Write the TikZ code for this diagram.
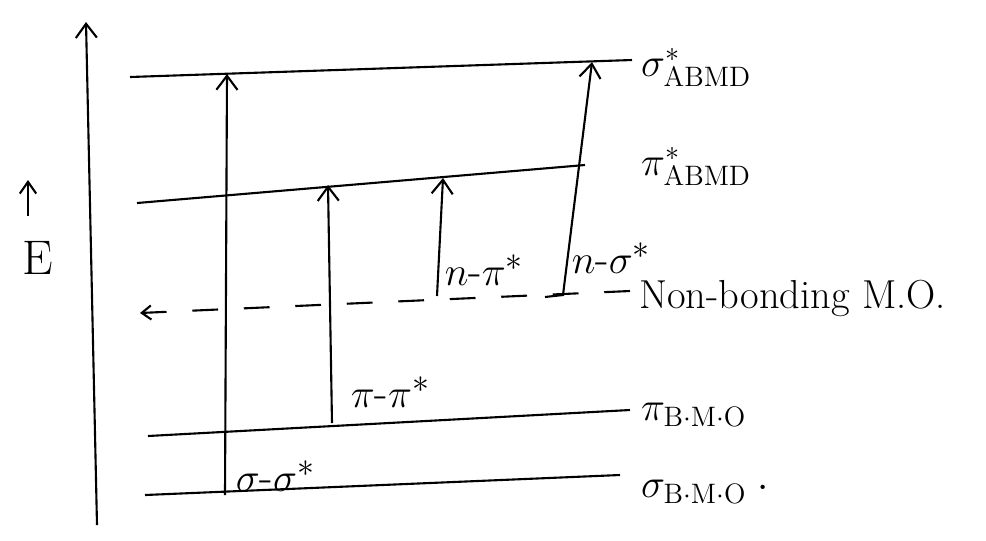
\documentclass[tikz,border=0pt]{standalone}
\usetikzlibrary{arrows.meta}
\begin{document}
\begin{tikzpicture}[
  x=0.015cm, y=-0.015cm,
  level/.style={line width=0.9pt},
  trans/.style={line width=0.9pt, -{Straight Barb[length=6pt,width=9pt,line width=0.9pt]}},
  lvllabel/.style={anchor=base west, font=\LARGE, inner sep=2pt},
  translabel/.style={anchor=south west, font=\fontsize{19}{22}\selectfont, inner sep=1pt}
]
  \useasboundingbox (0,0) rectangle (986,540);
  % energy axis
  \coordinate (ax0) at (97,525);
  \coordinate (ax1) at (86,22);
  \draw[trans] (ax0) -- (ax1);
  \coordinate (e0) at (28,216);
  \coordinate (e1) at (28,180);
  \draw[trans, -{Straight Barb[length=5pt,width=7pt,line width=0.9pt]}] (e0) -- (e1);
  \node[font=\huge] (elabel) at (38,258) {E};
  % levels
  \coordinate (ss0) at (130,77);  \coordinate (ss1) at (632,60);
  \coordinate (ps0) at (137,203); \coordinate (ps1) at (585,165);
  \coordinate (nb0) at (630,291); \coordinate (nbl) at (140,313);
  \coordinate (pb0) at (148,436); \coordinate (pb1) at (630,410);
  \coordinate (sb0) at (145,495); \coordinate (sb1) at (620,475);
  \draw[level] (ss0) -- (ss1);
  \draw[level] (ps0) -- (ps1);
  \draw[level, dash pattern=on 11pt off 11pt, -{Straight Barb[length=4pt,width=6pt,line width=0.9pt]}] (nb0) -- (nbl);
  \draw[level] (pb0) -- (pb1);
  \draw[level] (sb0) -- (sb1);
  \node[lvllabel] (lss) at (636,76) {$\sigma^{*}_{\mathrm{ABMD}}$};
  \node[lvllabel] (lps) at (636,175) {$\pi^{*}_{\mathrm{ABMD}}$};
  \node[lvllabel] (lnb) at (634,308) {Non-bonding M.O.};
  \node[lvllabel] (lpb) at (636,420) {$\pi_{\mathrm{B{\cdot}M{\cdot}O}}$};
  \node[lvllabel] (lsb) at (636,497) {$\sigma_{\mathrm{B{\cdot}M{\cdot}O}}\;\cdot$};
  % transitions
  \coordinate (t1a) at (225,495); \coordinate (t1b) at (227,74);
  \coordinate (t2a) at (332,423); \coordinate (t2b) at (328,185);
  \coordinate (t3a) at (437,296); \coordinate (t3b) at (443,178);
  \coordinate (t4s) at (545,297); \coordinate (t4a) at (563,295); \coordinate (t4b) at (592,62);
  \draw[trans] (t1a) -- (t1b);
  \draw[trans] (t2a) -- (t2b);
  \draw[trans] (t3a) -- (t3b);
  \draw[trans] (t4s) -- (t4a) -- (t4b);
  \node[translabel] (l1) at (233,494) {$\sigma$-$\sigma^{*}$};
  \node[translabel] (l2) at (348,410) {$\pi$-$\pi^{*}$};
  \node[translabel] (l3) at (442,288) {$n$-$\pi^{*}$};
  \node[translabel] (l4) at (569,276) {$n$-$\sigma^{*}$};
\end{tikzpicture}
\end{document}
